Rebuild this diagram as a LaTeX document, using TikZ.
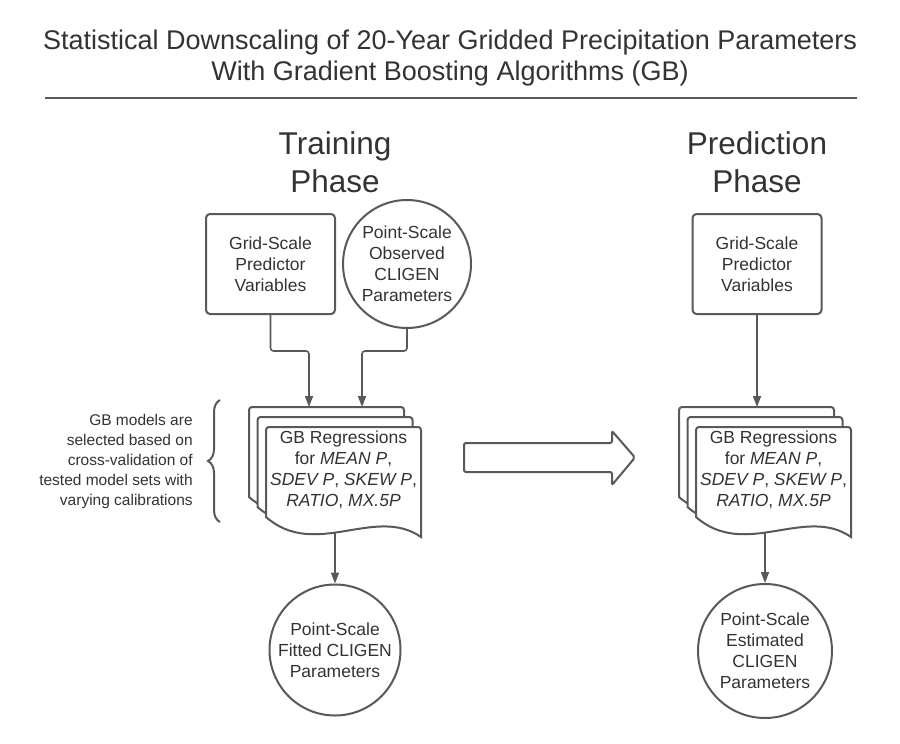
\documentclass[tikz,border=0pt]{standalone}
\usepackage{fontspec}
\setmainfont{Liberation Sans}
\usetikzlibrary{arrows.meta,decorations.pathreplacing}
\colorlet{linegray}{black!65}
\colorlet{textgray}{black!80}

\begin{document}
\begin{tikzpicture}[x=1pt,y=-1pt,line width=2pt,
    txt/.style={text=textgray,align=center,font=\fontsize{17.5}{21}\selectfont},
    gridbox/.style={txt,draw=linegray,rounded corners=4pt,minimum width=129pt,minimum height=100pt,inner sep=0pt},
    paramcircle/.style={txt,draw=linegray,circle,minimum size=131pt,inner sep=0pt},
    sheet/.style={draw=linegray,fill=white},
    flow/.style={draw=linegray,line width=1.6pt,rounded corners=3pt,-{Triangle[length=11pt,width=8pt]}}]
    \fill[white] (0,0) rectangle (900,744);
    \useasboundingbox (0,0) rectangle (900,744);
    % title
    \node[txt,font=\fontsize{27}{31}\selectfont] (title) at (450,58) {Statistical Downscaling of 20-Year Gridded Precipitation Parameters\\With Gradient Boosting Algorithms (GB)};
    \draw[linegray,line width=2.5pt] (45,98) -- (857,98);
    \node[txt,font=\fontsize{31.5}{38}\selectfont] (headT) at (335,162) {Training\\Phase};
    \node[txt,font=\fontsize{31.5}{38}\selectfont] (headP) at (757,162) {Prediction\\Phase};
    % inputs
    \node[gridbox] (gridT) at (270.5,264) {Grid-Scale\\Predictor\\Variables};
    \node[paramcircle,minimum size=128pt] (obsT) at (407,264) {Point-Scale\\Observed\\CLIGEN\\Parameters};
    \node[gridbox] (gridP) at (757,264) {Grid-Scale\\Predictor\\Variables};
    % stacks of GB regressions
    \foreach \sx in {266,696}
      \foreach \dx/\dy in {-17/-20,-8.5/-10,0/0}
        \draw[sheet,shift={(\sx+\dx,427+\dy)}] (0,90) [rounded corners=3pt]-- (0,0) -- (155,0) [sharp corners]-- (155,110)
          .. controls (109,78) and (49,133) .. (0,90) -- cycle;
    \node[txt] (regT) at (343.5,470) {GB Regressions\\for \textit{MEAN P},\\\textit{SDEV P}, \textit{SKEW P},\\\textit{RATIO}, \textit{MX.5P}};
    \node[txt] (regP) at (773.5,470) {GB Regressions\\for \textit{MEAN P},\\\textit{SDEV P}, \textit{SKEW P},\\\textit{RATIO}, \textit{MX.5P}};
    \coordinate (inT1) at (309,407);
    \coordinate (inT2) at (362,407);
    \coordinate (outT) at (335,532);
    \coordinate (inP) at (757,407);
    \coordinate (outP) at (765,532);
    % outputs
    \node[paramcircle] (fitT) at (335,650) {Point-Scale\\Fitted CLIGEN\\Parameters};
    \node[paramcircle,minimum size=134pt] (estP) at (765,651) {Point-Scale\\Estimated\\CLIGEN\\Parameters};
    % connectors
    \draw[flow] (gridT.south) -- ++(0,36) -| (inT1);
    \draw[flow] (obsT.south) -- ++(0,22) -| (inT2);
    \draw[flow] (outT) -- (fitT.north);
    \draw[flow] (gridP.south) -- (inP);
    \draw[flow] (outP) -- (estP.north);
    % note on model selection
    \node[txt,align=right,anchor=east,font=\fontsize{15.5}{20}\selectfont] (noteT) at (197,461) {GB models are\\selected based on\\cross-validation of\\tested model sets with\\varying calibrations};
    \draw[linegray,decorate,decoration={brace,amplitude=12pt,aspect=0.5}] (220,522) -- (220,400);
    % phase arrow
    \draw[linegray,rounded corners=2pt] (464,443) -- (612,443) -- (612,431) -- (635,457.5) -- (612,485) -- (612,472) -- (464,472) -- cycle;
\end{tikzpicture}
\end{document}
